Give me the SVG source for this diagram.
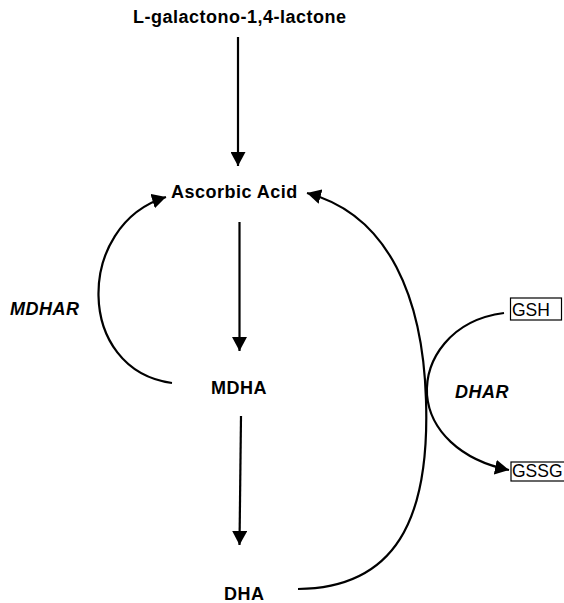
<svg xmlns="http://www.w3.org/2000/svg" width="564" height="603" viewBox="0 0 564 603">
  <style>
    .lbl { font-family: "Liberation Sans", Arial, sans-serif; font-size: 18px; font-weight: bold; letter-spacing: 0.5px; fill: #000; }
    .enz { font-style: italic; }
    .box-t { font-family: "Liberation Sans", Arial, sans-serif; font-size: 17.5px; fill: #000; }
    .box { fill: #fff; stroke: #000; stroke-width: 1.2; }
    .edge { fill: none; stroke: #000; stroke-width: 2.2; marker-end: url(#head); }
  </style>
  <defs>
    <marker id="head" markerUnits="userSpaceOnUse" markerWidth="14" markerHeight="15" refX="14" refY="7.5" orient="auto">
      <path d="M0,0 L14,7.5 L0,15 z" fill="#000"/>
    </marker>
  </defs>
  <rect width="564" height="603" fill="#fff"/>

  <g id="connectors">
    <!-- main pathway -->
    <path class="edge" d="M238,37 L238,166"/>
    <path class="edge" d="M239.5,222 L239.5,351"/>
    <path class="edge" d="M241,416 L239.5,545"/>
    <!-- MDHAR recycling MDHA back to ascorbate -->
    <path class="edge" d="M172,383 C75,370 75,225 166,197"/>
    <!-- DHA back to ascorbate -->
    <path class="edge" d="M298,589 C395,588 430,520 426,400 C423,300 390,215 307,193"/>
    <!-- DHAR: GSH oxidised to GSSG -->
    <path class="edge" d="M504,313 C450,320 425,360 427,395 C430,430 460,460 509,470"/>
  </g>

  <g id="lactone">
    <text class="lbl" x="133" y="23">L-galactono-1,4-lactone</text>
  </g>
  <g id="ascorbate">
    <text class="lbl" x="171" y="198">Ascorbic Acid</text>
  </g>
  <g id="mdha">
    <text class="lbl" x="211" y="394">MDHA</text>
  </g>
  <g id="dha">
    <text class="lbl" x="224" y="600">DHA</text>
  </g>
  <g id="mdhar">
    <text class="lbl enz" x="10" y="315">MDHAR</text>
  </g>
  <g id="dhar">
    <text class="lbl enz" x="455" y="398">DHAR</text>
  </g>
  <g id="gsh">
    <rect class="box" x="510.5" y="298" width="51" height="22"/>
    <text class="box-t" x="512" y="316">GSH</text>
  </g>
  <g id="gssg">
    <rect class="box" x="511" y="462" width="60" height="19"/>
    <text class="box-t" x="512" y="477">GSSG</text>
  </g>
</svg>
